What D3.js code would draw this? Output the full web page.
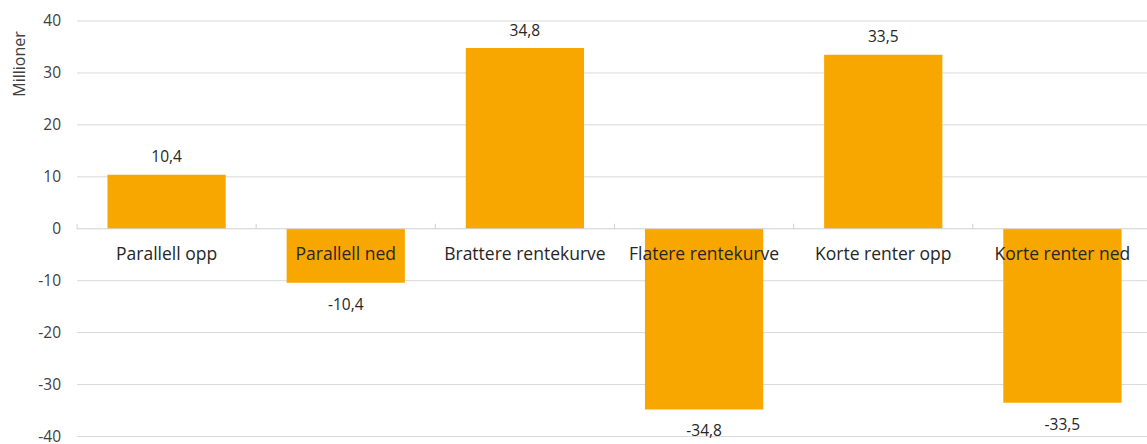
<!DOCTYPE html>
<html><head><meta charset="utf-8">
<script src="https://cdn.jsdelivr.net/npm/d3@7"></script>
<style>body{margin:0;background:#fff;} svg{display:block;font-family:"Open Sans","Noto Sans",sans-serif;}</style>
</head><body>
<svg id="c" width="1147" height="444"></svg>
<script>
const categories = ["Parallell opp","Parallell ned","Brattere rentekurve","Flatere rentekurve","Korte renter opp","Korte renter ned"];
const values = [10.4, -10.4, 34.8, -34.8, 33.5, -33.5];
const yTicks = [-40,-30,-20,-10,0,10,20,30,40];
const yTitle = "Millioner";

const svg = d3.select("#c");
const x = d3.scaleBand().domain(categories).range([77, 1152]).paddingInner(0.34).paddingOuter(0.17);
const y = d3.scaleLinear().domain([-40, 40]).range([436.5, 21]);
const fmt = v => d3.format(".1f")(v).replace(".", ",").replace("−","-");

// gridlines
svg.append("g").selectAll("line").data(yTicks.filter(t => t !== 0)).join("line")
  .attr("x1", 77).attr("x2", 1147).attr("y1", d => y(d)).attr("y2", d => y(d))
  .attr("stroke", "#d9d9d9").attr("stroke-width", 1);

// y tick labels
svg.append("g").selectAll("text").data(yTicks).join("text")
  .attr("x", 61).attr("y", d => y(d)).attr("dy", "0.35em").attr("text-anchor", "end")
  .attr("font-size", 15.5).attr("fill", "#404040").text(d => String(d));

// y title
svg.append("text").attr("transform", "translate(25,64) rotate(-90)").attr("text-anchor", "middle")
  .attr("font-size", 16).attr("fill", "#404040").text(yTitle);

// bars
svg.append("g").selectAll("rect").data(categories).join("rect")
  .attr("x", d => x(d)).attr("width", x.bandwidth())
  .attr("y", (d, i) => y(Math.max(0, values[i])))
  .attr("height", (d, i) => Math.abs(y(values[i]) - y(0)))
  .attr("fill", "#F7A700");

// zero axis line + ticks
svg.append("line").attr("x1", 77).attr("x2", 1147).attr("y1", y(0)).attr("y2", y(0))
  .attr("stroke", "#d0d0d0").attr("stroke-width", 1);
const bounds = d3.range(categories.length + 1).map(i => 77 + i * (1152 - 77) / categories.length);
svg.append("g").selectAll("line").data(bounds.filter(b => b < 1147)).join("line")
  .attr("x1", d => d).attr("x2", d => d).attr("y1", y(0) - 5).attr("y2", y(0))
  .attr("stroke", "#d0d0d0").attr("stroke-width", 1);

// category labels
svg.append("g").selectAll("text").data(categories).join("text")
  .attr("x", d => x(d) + x.bandwidth() / 2).attr("y", 259.5).attr("text-anchor", "middle")
  .attr("font-size", 17.5).attr("fill", "#262626").text(d => d);

// value labels
svg.append("g").selectAll("text").data(categories).join("text")
  .attr("x", d => x(d) + x.bandwidth() / 2)
  .attr("y", (d, i) => values[i] >= 0 ? y(values[i]) - 12.5 : y(values[i]) + 27)
  .attr("text-anchor", "middle").attr("font-size", 15.5).attr("fill", "#262626")
  .text((d, i) => fmt(values[i]));
</script>
</body></html>
